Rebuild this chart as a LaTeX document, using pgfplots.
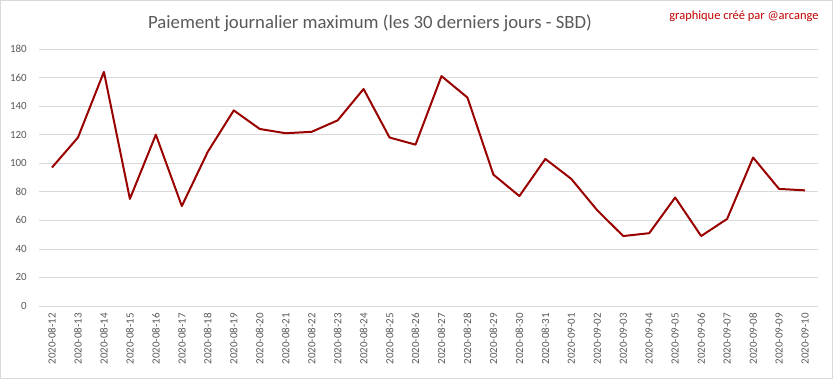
\documentclass[border=0pt]{standalone}
\usepackage{pgfplots}
\pgfplotsset{compat=1.18}
\usepackage{fontspec}
\setmainfont{Carlito}
\definecolor{linered}{RGB}{153,0,0}
\definecolor{txtgray}{RGB}{89,89,89}
\definecolor{gridgray}{RGB}{217,217,217}
\definecolor{credit}{RGB}{192,0,0}
\begin{document}
\begin{tikzpicture}
\path[use as bounding box] (0,0) rectangle (833bp,379bp);
\draw[gridgray, line width=0.75bp] (0.5bp,0.5bp) rectangle (832.5bp,378.5bp);
\node[txtgray, font=\fontsize{18.8}{22}\selectfont] at (370bp,356bp) {Paiement journalier maximum (les 30 derniers jours - SBD)};
\node[credit, font=\fontsize{12.5}{15}\selectfont, anchor=east] at (822bp,363bp) {graphique créé par @arcange};
\begin{axis}[
  at={(39bp,73bp)}, anchor=south west, scale only axis,
  width=779bp, height=257bp,
  xmin=-0.5, xmax=29.5, ymin=0, ymax=180,
  ytick={0,20,...,180},
  xtick={0,...,29},
  xticklabels={2020-08-12,2020-08-13,2020-08-14,2020-08-15,2020-08-16,2020-08-17,2020-08-18,2020-08-19,2020-08-20,2020-08-21,2020-08-22,2020-08-23,2020-08-24,2020-08-25,2020-08-26,2020-08-27,2020-08-28,2020-08-29,2020-08-30,2020-08-31,2020-09-01,2020-09-02,2020-09-03,2020-09-04,2020-09-05,2020-09-06,2020-09-07,2020-09-08,2020-09-09,2020-09-10},
  axis line style={draw=none},
  major tick length=0pt,
  ymajorgrids,
  major grid style={gridgray, line width=0.75bp},
  /pgf/number format/assume math mode=true,
  yticklabel style={anchor=east, inner sep=0pt, xshift=-12bp, txtgray, font=\fontsize{11}{13}\selectfont},
  xticklabel style={yshift=-7bp, rotate=90, anchor=east, inner sep=0pt, txtgray, font=\fontsize{11}{13}\selectfont},
]
\addplot[linered, line width=2bp, line join=round, mark=none] coordinates {
(0,97) (1,118) (2,164) (3,75) (4,120) (5,70) (6,108) (7,137) (8,124) (9,121)
(10,122) (11,130) (12,152) (13,118) (14,113) (15,161) (16,146) (17,92) (18,77) (19,103)
(20,89) (21,67) (22,49) (23,51) (24,76) (25,49) (26,61) (27,104) (28,82) (29,81)
};
\end{axis}
\end{tikzpicture}
\end{document}
